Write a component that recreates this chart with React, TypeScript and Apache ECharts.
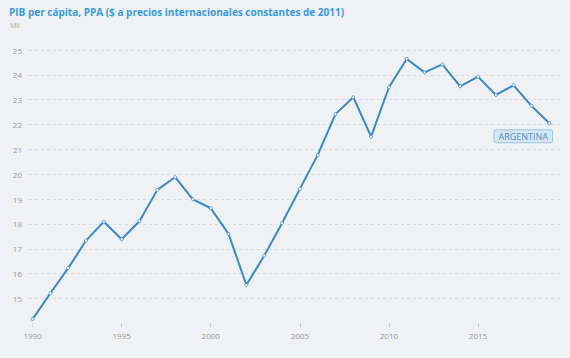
import React, { useEffect, useRef } from "react";
import * as echarts from "echarts";

const years = [1990, 1991, 1992, 1993, 1994, 1995, 1996, 1997, 1998, 1999, 2000, 2001, 2002, 2003, 2004, 2005, 2006, 2007, 2008, 2009, 2010, 2011, 2012, 2013, 2014, 2015, 2016, 2017, 2018, 2019];
const gdpPerCapita = [14.17, 15.21, 16.22, 17.33, 18.09, 17.38, 18.11, 19.37, 19.88, 18.99, 18.63, 17.6, 15.54, 16.72, 18.03, 19.41, 20.77, 22.42, 23.1, 21.51, 23.5, 24.64, 24.1, 24.42, 23.54, 23.93, 23.19, 23.58, 22.75, 22.05];
const xTickLabels = [1990, 1995, 2000, 2005, 2010, 2015];
const yTickLabels = [15, 16, 17, 18, 19, 20, 21, 22, 23, 24, 25];
const seriesName = "ARGENTINA";
const titleText = "PIB per cápita, PPA ($ a precios internacionales constantes de 2011)";
const unitText = "Mil";

export default function App() {
  const ref = useRef<HTMLDivElement>(null);
  useEffect(() => {
    if (!ref.current) return;
    const chart = echarts.init(ref.current, null, { renderer: "svg" });
    const lineColor = "#3a88c6";
    const data = years.map((y, i) => {
      const item: any = { value: [y, gdpPerCapita[i]] };
      if (i === years.length - 1) {
        item.label = {
          show: true,
          formatter: seriesName,
          position: "bottom",
          distance: 5,
          offset: [-26, 0],
          color: "#5a8cba",
          fontFamily: "Open Sans",
          fontSize: 9,
          backgroundColor: "#d5e6f4",
          borderColor: "#9cc4e4",
          borderWidth: 1,
          borderRadius: 2,
          padding: [2, 4, 1, 4],
        };
      }
      return item;
    });
    chart.setOption({
      animation: false,
      backgroundColor: "#eff1f5",
      title: [
        {
          text: titleText,
          left: 4,
          top: 2,
          textStyle: { color: "#3a9be0", fontSize: 10, fontWeight: "bold", fontFamily: "Open Sans" },
        },
        {
          text: unitText,
          left: 5,
          top: 17,
          textStyle: { color: "#aaaaaa", fontSize: 7, fontWeight: "normal", fontFamily: "Open Sans" },
        },
      ],
      grid: { left: 29, right: 7, top: 50, bottom: 34.7, containLabel: false },
      xAxis: {
        type: "value",
        min: 1989.8,
        max: 2019.77,
        axisLine: { show: false },
        splitLine: { show: false },
        axisTick: {
          show: true,
          customValues: xTickLabels,
          length: 4,
          lineStyle: { color: "#cccccc" },
        },
        axisLabel: {
          customValues: xTickLabels,
          color: "#999999",
          fontSize: 8,
          fontFamily: "Open Sans",
          margin: 8,
          formatter: (v: number) => String(v),
        },
      },
      yAxis: {
        type: "value",
        min: 14,
        max: 25,
        interval: 1,
        axisLine: { show: false },
        axisTick: { show: false },
        axisLabel: {
          customValues: yTickLabels,
          color: "#999999",
          fontSize: 8,
          fontFamily: "Open Sans",
          margin: 7,
        },
        splitLine: {
          show: true,
          showMinLine: false,
          lineStyle: { color: "#d8dbe0", type: [3, 3], width: 1 },
        },
      },
      series: [
        {
          type: "line",
          name: seriesName,
          data,
          lineStyle: { color: lineColor, width: 2 },
          symbol: "circle",
          symbolSize: 3,
          itemStyle: { color: "#ffffff", borderColor: lineColor, borderWidth: 0.8 },
          showAllSymbol: true,
        },
      ],
    });
    return () => chart.dispose();
  }, []);
  return (
    <div
      ref={ref}
      style={{ position: "fixed", left: 0, top: 0, width: 570, height: 358, background: "#eff1f5" }}
    />
  );
}
